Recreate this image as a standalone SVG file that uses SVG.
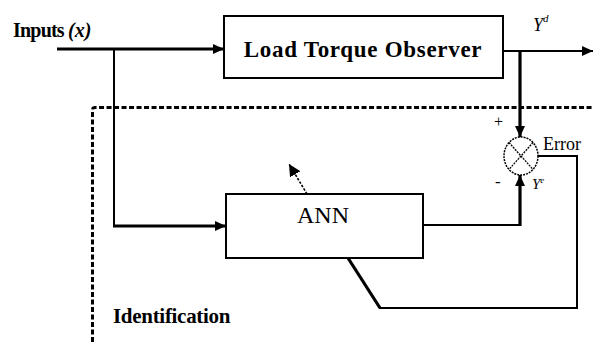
<svg xmlns="http://www.w3.org/2000/svg" width="593" height="342" viewBox="0 0 593 342">
<style>
.t{font-family:"Liberation Serif","Times New Roman",serif;fill:#000}
.b{font-weight:bold}
.box{fill:#fff;stroke:#000;stroke-width:2}
.ln{fill:none;stroke:#000;stroke-width:2}
.thk{fill:none;stroke:#000;stroke-width:3.2}
.dash{fill:none;stroke:#000;stroke-width:3;stroke-dasharray:5 2.5}
</style>
<defs>
<marker id="ah" markerUnits="userSpaceOnUse" markerWidth="12" markerHeight="10" refX="11" refY="5" orient="auto">
<path d="M0,0 L11,5 L0,10 Z" fill="#000"/>
</marker>
<marker id="ah2" markerUnits="userSpaceOnUse" markerWidth="14" markerHeight="12" refX="12" refY="6" orient="auto">
<path d="M0,0 L12,6 L0,12 Z" fill="#000"/>
</marker>
</defs>
<rect width="593" height="342" fill="#fff"/>
<g id="identification-frame">
<path class="dash" d="M92.5,342 V110 Q92.5,107.5 95,107.5 H593"/>
<text class="t b" x="113" y="323" font-size="21" letter-spacing="-0.3">Identification</text>
</g>
<g id="connectors">
<path class="thk" d="M57,49 H224" marker-end="url(#ah)"/>
<path class="ln" d="M114,49 V226"/>
<path class="thk" d="M113,226 H226" marker-end="url(#ah)"/>
<path class="ln" d="M503,51 H593" marker-end="url(#ah)"/>
<path class="thk" d="M520,51 V137" marker-end="url(#ah)"/>
<path class="ln" d="M423,225 H521"/>
<path class="thk" d="M520,226 V175" marker-end="url(#ah)"/>
<path class="ln" d="M538,156 H577 V308 H379"/>
<path class="thk" d="M380,308 L348,258"/>
<path fill="none" stroke="#000" stroke-width="1.6" stroke-dasharray="2.5 1.5" d="M307,194 L289,164" marker-end="url(#ah2)"/>
</g>
<g id="inputs">
<text class="t b" x="13" y="37" font-size="20" letter-spacing="-0.8">Inputs <tspan font-style="italic" letter-spacing="0">(x)</tspan></text>
</g>
<g id="load-torque-observer">
<rect class="box" x="224" y="16" width="279" height="62"/>
<text class="t b" x="363" y="57" font-size="23" text-anchor="middle" letter-spacing="0.7">Load Torque Observer</text>
</g>
<g id="ann">
<rect class="box" x="226" y="194" width="197" height="64"/>
<text class="t" x="323" y="223" font-size="24" text-anchor="middle">ANN</text>
</g>
<g id="summing-junction">
<ellipse cx="521" cy="156" rx="17" ry="19" fill="#fff" stroke="#000" stroke-width="1.5" stroke-dasharray="2 1"/>
<path d="M509,142.5 L533,169.5 M533,142.5 L509,169.5" stroke="#000" stroke-width="1.3" stroke-dasharray="2 1" fill="none"/>
<text class="t" x="494" y="127" font-size="16">+</text>
<text class="t" x="495" y="187" font-size="17">-</text>
</g>
<g id="labels">
<text class="t" x="533" y="31" font-size="18" font-style="italic">Y<tspan font-size="11" dy="-9">d</tspan></text>
<text class="t" x="543" y="150" font-size="18">Error</text>
<text class="t" x="532" y="189" font-size="15" font-style="italic">Y<tspan font-size="9" dy="-6">e</tspan></text>
</g>
</svg>
